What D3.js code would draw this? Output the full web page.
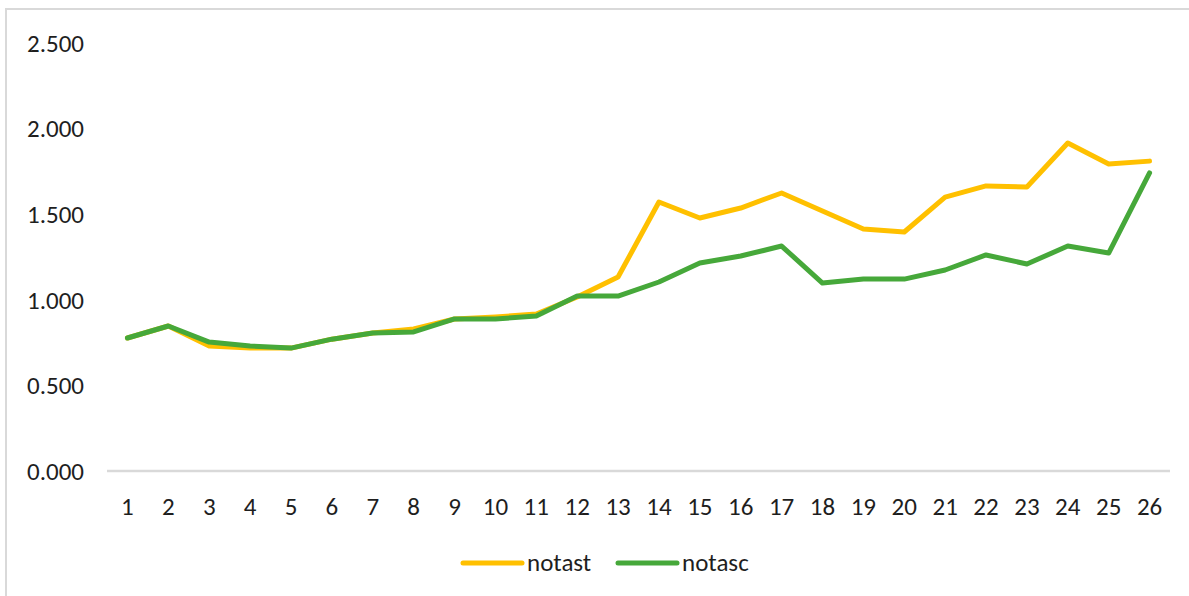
<!DOCTYPE html>
<html>
<head>
<meta charset="utf-8">
<script src="https://cdn.jsdelivr.net/npm/d3@7/dist/d3.min.js"></script>
<style>
  html, body { margin: 0; padding: 0; background: #ffffff; }
  svg { display: block; }
</style>
</head>
<body>
<svg id="chart" width="1189" height="596"></svg>
<script>
const categories = ["1","2","3","4","5","6","7","8","9","10","11","12","13","14","15","16","17","18","19","20","21","22","23","24","25","26"];
const notast = [0.777,0.847,0.730,0.718,0.718,0.770,0.806,0.830,0.888,0.900,0.917,1.016,1.133,1.571,1.478,1.536,1.624,1.519,1.414,1.396,1.600,1.665,1.659,1.916,1.793,1.810];
const notasc = [0.777,0.847,0.753,0.730,0.718,0.770,0.806,0.812,0.888,0.888,0.905,1.022,1.022,1.104,1.215,1.256,1.314,1.098,1.121,1.121,1.174,1.262,1.209,1.314,1.273,1.741];
const yTicks = [0, 0.5, 1.0, 1.5, 2.0, 2.5];
const seriesNames = ["notast", "notasc"];
const seriesColors = ["#FFC000", "#46A83A"];

const svg = d3.select("#chart");

// outer frame (chart area border)
svg.append("rect")
  .attr("x", 6).attr("y", 9)
  .attr("width", 1400).attr("height", 700)
  .attr("fill", "#ffffff")
  .attr("stroke", "#d9d9d9")
  .attr("stroke-width", 2);

const plotLeft = 107, plotRight = 1170, plotTop = 43, plotBottom = 471;

const x = d3.scaleBand().domain(categories).range([plotLeft, plotRight]);
const y = d3.scaleLinear().domain([0, 2.5]).range([plotBottom, plotTop]);

// baseline
svg.append("line")
  .attr("x1", plotLeft).attr("x2", plotRight)
  .attr("y1", y(0)).attr("y2", y(0))
  .attr("stroke", "#d9d9d9").attr("stroke-width", 2.5);

const fontFamily = "Carlito, 'Open Sans', 'Liberation Sans', sans-serif";
const fmt = d3.format(".3f");
const fontSize = 25;
const textColor = "#1e1e1e";

// y axis labels
const yAxis = d3.axisLeft(y).tickValues(yTicks).tickSize(0).tickPadding(0)
  .tickFormat(d => fmt(d));
const yg = svg.append("g").attr("transform", "translate(84,0)").call(yAxis);
yg.select(".domain").remove();
yg.selectAll("text")
  .attr("font-family", fontFamily)
  .attr("font-size", fontSize)
  .attr("fill", textColor)
  .attr("dy", "0.33em");

// x axis labels
const xAxis = d3.axisBottom(x).tickSize(0).tickPadding(0);
const xg = svg.append("g").attr("transform", `translate(0,${y(0)})`).call(xAxis);
xg.select(".domain").remove();
xg.selectAll("text")
  .attr("font-family", fontFamily)
  .attr("font-size", fontSize)
  .attr("fill", textColor)
  .attr("y", 0)
  .attr("dy", "1.75em");

// lines
const line = d3.line()
  .x((d, i) => x(categories[i]) + x.bandwidth() / 2)
  .y(d => y(d));

[notast, notasc].forEach((vals, k) => {
  svg.append("path")
    .datum(vals)
    .attr("d", line)
    .attr("fill", "none")
    .attr("stroke", seriesColors[k])
    .attr("stroke-width", 5)
    .attr("stroke-linejoin", "round")
    .attr("stroke-linecap", "round");
});

// legend
const legendItems = [
  { name: seriesNames[0], color: seriesColors[0], x0: 463 },
  { name: seriesNames[1], color: seriesColors[1], x0: 618 }
];
const ly = 563;
legendItems.forEach(it => {
  svg.append("line")
    .attr("x1", it.x0).attr("x2", it.x0 + 59)
    .attr("y1", ly).attr("y2", ly)
    .attr("stroke", it.color).attr("stroke-width", 5)
    .attr("stroke-linecap", "round");
  svg.append("text")
    .attr("x", it.x0 + 64).attr("y", ly)
    .attr("dy", "0.33em")
    .attr("font-family", fontFamily)
    .attr("font-size", fontSize)
    .attr("fill", textColor)
    .text(it.name);
});
</script>
</body>
</html>
